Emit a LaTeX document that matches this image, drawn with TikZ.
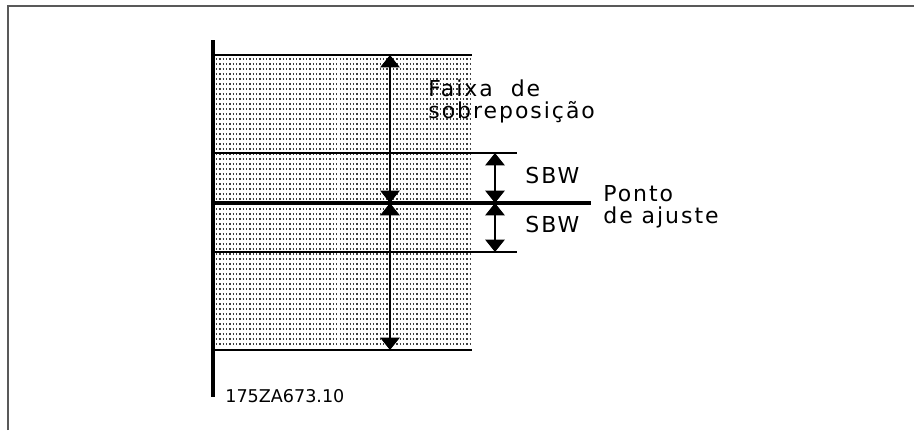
\documentclass[tikz,border=0pt]{standalone}
\usepackage{fontspec}
\newfontfamily\cadfont[LetterSpace=9]{DejaVu Sans}
\newfontfamily\codefont{DejaVu Sans}
\usetikzlibrary{arrows.meta}

\tikzset{
	labeltext/.style={font=\cadfont\fontsize{12.5}{12}\selectfont, anchor=base west, inner sep=0pt, align=left},
	dimarrow/.style={{Triangle[width=11pt,length=7pt]}-{Triangle[width=11pt,length=7pt]}, line width=0.7pt},
	dotrow/.style={line width=0.75pt, black!75, dash pattern=on 0.75pt off 1.15pt},
	thinline/.style={line width=0.8pt},
}

\begin{document}
\begin{tikzpicture}[x=0.02cm,y=-0.02cm]
	\useasboundingbox (0,0) rectangle (914,430);
	% frame
	\draw[gray!70!black, line width=1.2pt] (8,430) -- (8,6) -- (914,6);
	
	% shaded band
	\foreach \y in {59,64,...,347}
		\draw[dotrow] (216,\y) -- (471,\y);
	
	\coordinate (axtop) at (213,40);
	\coordinate (axbot) at (213,397);
	\coordinate (upper) at (390,55);
	\coordinate (lower) at (390,350);
	\coordinate (sp) at (390,203);
	\coordinate (sbwsp) at (495,203);
	\coordinate (sbwup) at (495,153);
	\coordinate (sbwlo) at (495,252);
	
	\draw[line width=1.9pt] (axtop) -- (axbot);
	\draw[thinline] (213,55) -- (472,55);
	\draw[thinline] (213,350) -- (472,350);
	\draw[thinline] (213,153) -- (517,153);
	\draw[thinline] (213,252) -- (517,252);
	\draw[line width=2.1pt] (213,203) -- (591,203);
	
	\draw[dimarrow] (upper) -- (sp);
	\draw[dimarrow] (sp) -- (lower);
	\draw[dimarrow] (sbwup) -- (sbwsp);
	\draw[dimarrow] (sbwsp) -- (sbwlo);
	
	% two-line nodes sit on their last line
	\node[labeltext] (faixa) at (428,118) {Faixa~ de\\sobreposição};
	\node[labeltext] (sbwa) at (525,183) {SBW};
	\node[labeltext] (sbwb) at (525,232) {SBW};
	\node[labeltext] (ponto) at (603,223) {Ponto\\de ajuste};
	\node[font=\codefont\fontsize{10}{12}\selectfont, anchor=base west, inner sep=0pt] (code) at (225,402) {175ZA673.10};
\end{tikzpicture}
\end{document}
